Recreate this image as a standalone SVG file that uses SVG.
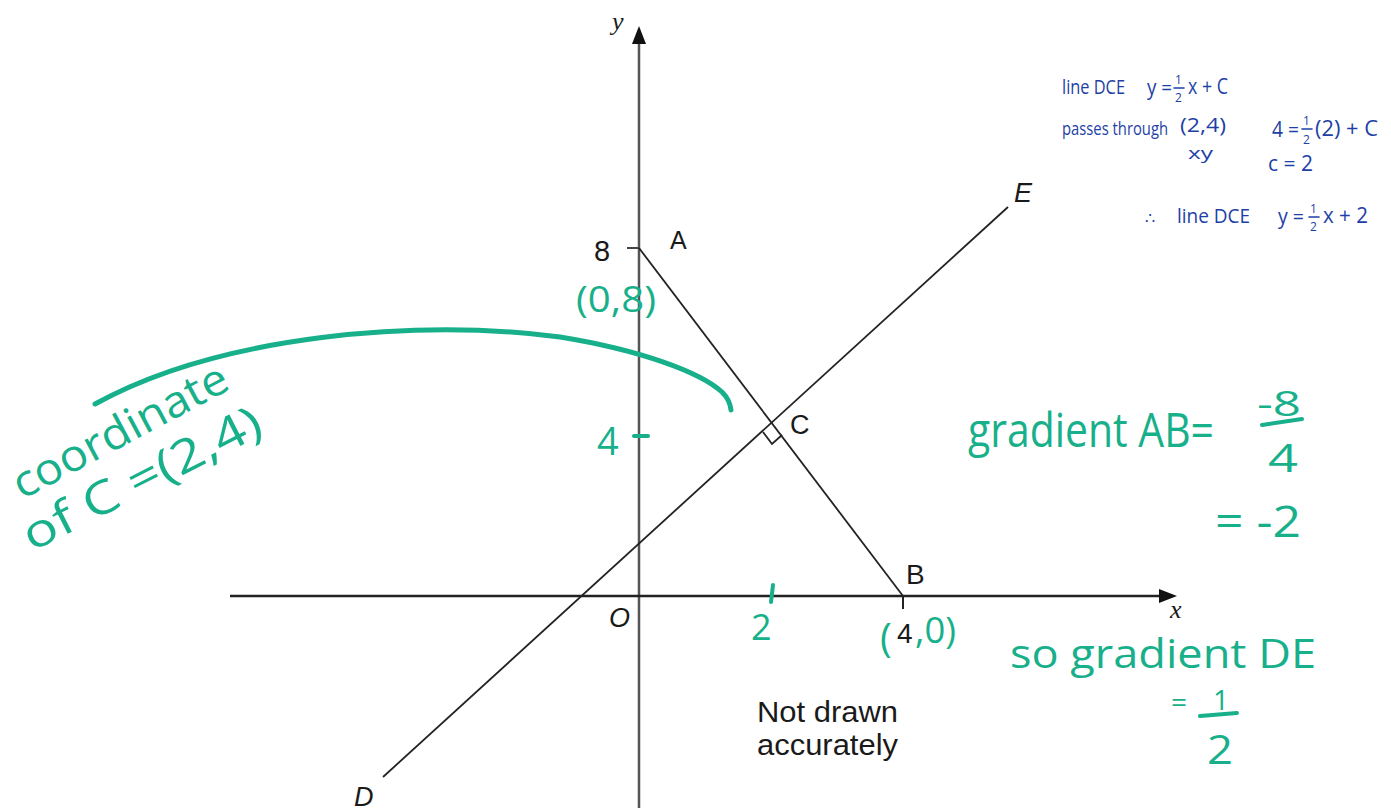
<svg xmlns="http://www.w3.org/2000/svg" width="1391" height="812" viewBox="0 0 1391 812">
<style>
.lbl{font-family:"Liberation Sans",Arial,sans-serif;fill:#1a1a1a}
.it{font-family:"Liberation Serif","Times New Roman",serif;font-style:italic;fill:#1a1a1a}
.itS{font-family:"Liberation Sans",Arial,sans-serif;font-style:italic;fill:#1a1a1a}
.g{font-family:"Open Sans","Noto Sans",sans-serif;fill:#17b08a}
.b{font-family:"Open Sans","Noto Sans",sans-serif;fill:#1e3fa6}
.gs{stroke:#17b08a;fill:none;stroke-linecap:round}
.bs{stroke:#1e3fa6;fill:none;stroke-width:1.6;stroke-linecap:round}
.ln{stroke:#222;fill:none;stroke-width:1.8}
</style>
<rect width="1391" height="812" fill="#fff"/>

<g id="axes">
<line x1="639" y1="808" x2="639" y2="42" stroke="#555" stroke-width="2.5"/>
<path d="M639,26 L632,44 L646,44 z" fill="#111"/>
<line x1="230" y1="596" x2="1160" y2="596" stroke="#222" stroke-width="2.5"/>
<path d="M1177,596 L1159,589 L1159,603 z" fill="#111"/>
<line x1="627" y1="248" x2="639" y2="248" stroke="#444" stroke-width="2"/>
<line x1="903" y1="596" x2="903" y2="609" stroke="#222" stroke-width="2"/>
<text class="it" x="612" y="30" font-size="26">y</text>
<text class="it" x="1170" y="618" font-size="26">x</text>
<text class="itS" x="609" y="627" font-size="27">O</text>
</g>

<g id="connectors">
<line class="ln" x1="639" y1="248" x2="903" y2="596"/>
<line class="ln" x1="383" y1="777" x2="1008" y2="207"/>
<path class="ln" d="M763,432 L772,444 L782,435" stroke-width="1.6"/>
</g>

<g id="node-A"><text class="lbl" x="670" y="249" font-size="25">A</text></g>
<g id="node-8"><text class="lbl" x="594" y="261" font-size="29">8</text></g>
<g id="node-B"><text class="lbl" x="906" y="584" font-size="28">B</text></g>
<g id="node-C"><text class="lbl" x="790" y="434" font-size="27">C</text></g>
<g id="node-D"><text class="itS" x="354" y="806" font-size="27">D</text></g>
<g id="node-E"><text class="itS" x="1014" y="202" font-size="27">E</text></g>
<g id="note">
<text class="lbl" x="757" y="722" font-size="29" textLength="141" lengthAdjust="spacingAndGlyphs">Not drawn</text>
<text class="lbl" x="757" y="755" font-size="29" textLength="141" lengthAdjust="spacingAndGlyphs">accurately</text>
</g>

<g id="green-annotations">
<path class="gs" stroke-width="5" d="M95,404 C220,335 420,318 560,337 C640,350 700,372 722,392 Q730,400 731,410"/>
<text class="g" x="576" y="312" font-size="36" textLength="80" lengthAdjust="spacingAndGlyphs">(0,8)</text>
<text class="g" x="597" y="455" font-size="38">4</text>
<line class="gs" stroke-width="4" x1="634" y1="436" x2="648" y2="436"/>
<line class="gs" stroke-width="4" x1="773" y1="585" x2="771" y2="602"/>
<text class="g" x="751" y="640" font-size="36">2</text>
<text class="g" x="880" y="652" font-size="40">(</text>
<text class="lbl" x="897" y="643" font-size="28">4</text>
<text class="g" x="915" y="643" font-size="36" textLength="41" lengthAdjust="spacingAndGlyphs">,0)</text>
<text class="g" font-size="44" transform="translate(22,500) rotate(-28)" textLength="238" lengthAdjust="spacingAndGlyphs">coordinate</text>
<text class="g" font-size="46" transform="translate(32,552) rotate(-27)" textLength="262" lengthAdjust="spacingAndGlyphs">of C =(2,4)</text>
<text class="g" font-size="40" transform="translate(968,447) scale(1,1.2)" textLength="246" lengthAdjust="spacingAndGlyphs">gradient AB=</text>
<text class="g" x="1257" y="416" font-size="34" textLength="44" lengthAdjust="spacingAndGlyphs">-8</text>
<line class="gs" stroke-width="4" x1="1262" y1="425" x2="1302" y2="419"/>
<text class="g" x="1268" y="472" font-size="38" textLength="30" lengthAdjust="spacingAndGlyphs">4</text>
<text class="g" x="1215" y="537" font-size="44" textLength="86" lengthAdjust="spacingAndGlyphs">= -2</text>
<text class="g" x="1010" y="668" font-size="40" textLength="306" lengthAdjust="spacingAndGlyphs">so gradient DE</text>
<text class="g" x="1171" y="712" font-size="28">=</text>
<text class="g" x="1213" y="710" font-size="28">1</text>
<line class="gs" stroke-width="4" x1="1200" y1="716" x2="1237" y2="713"/>
<text class="g" x="1207" y="764" font-size="40" textLength="26" lengthAdjust="spacingAndGlyphs">2</text>
</g>

<g id="blue-working">
<text class="b" x="1062" y="94" font-size="20" textLength="63" lengthAdjust="spacingAndGlyphs">line DCE</text>
<text class="b" x="1147" y="95" font-size="22" textLength="25" lengthAdjust="spacingAndGlyphs">y =</text>
<text class="b" x="1175" y="84" font-size="12">1</text>
<line class="bs" x1="1174" y1="88" x2="1184" y2="88"/>
<text class="b" x="1175" y="102" font-size="12">2</text>
<text class="b" x="1188" y="94" font-size="21" textLength="40" lengthAdjust="spacingAndGlyphs">x + C</text>

<text class="b" font-size="15" transform="translate(1062,135) scale(1,1.25)" textLength="106" lengthAdjust="spacingAndGlyphs">passes through</text>
<text class="b" x="1180" y="132" font-size="20" textLength="46" lengthAdjust="spacingAndGlyphs">(2,4)</text>
<text class="b" x="1188" y="159" font-size="16" textLength="25" lengthAdjust="spacingAndGlyphs">xy</text>

<text class="b" x="1272" y="137" font-size="21" textLength="27" lengthAdjust="spacingAndGlyphs">4 =</text>
<text class="b" x="1303" y="125" font-size="12">1</text>
<line class="bs" x1="1302" y1="129" x2="1312" y2="129"/>
<text class="b" x="1303" y="144" font-size="12">2</text>
<text class="b" x="1315" y="136" font-size="22" textLength="63" lengthAdjust="spacingAndGlyphs">(2) + C</text>
<text class="b" x="1268" y="171" font-size="21" textLength="45" lengthAdjust="spacingAndGlyphs">c = 2</text>

<text class="b" x="1145" y="224" font-size="16">∴</text>
<text class="b" x="1177" y="223" font-size="20" textLength="73" lengthAdjust="spacingAndGlyphs">line DCE</text>
<text class="b" x="1278" y="224" font-size="22" textLength="26" lengthAdjust="spacingAndGlyphs">y =</text>
<text class="b" x="1310" y="213" font-size="12">1</text>
<line class="bs" x1="1309" y1="217" x2="1319" y2="217"/>
<text class="b" x="1310" y="231" font-size="12">2</text>
<text class="b" x="1323" y="223" font-size="21" textLength="45" lengthAdjust="spacingAndGlyphs">x + 2</text>
</g>
</svg>
